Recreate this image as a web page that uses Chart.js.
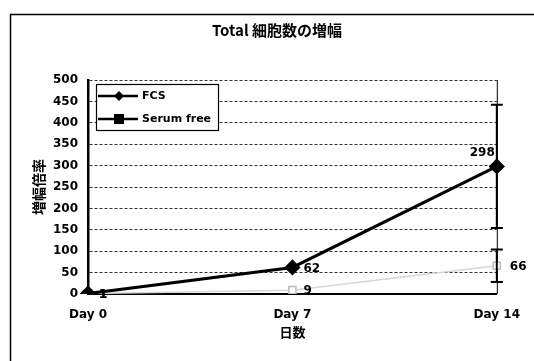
<!DOCTYPE html>
<html>
<head>
<meta charset="utf-8">
<script src="https://cdn.jsdelivr.net/npm/chart.js@4/dist/chart.umd.min.js"></script>
<style>
  html, body { margin: 0; padding: 0; background: #fff; }
  #wrap { width: 534px; height: 361px; }
</style>
</head>
<body>
<div id="wrap"><canvas id="c" width="534" height="361"></canvas></div>
<script>
// Fold expansion of total cell count
const days = ['Day 0', 'Day 7', 'Day 14'];
const fcsValues = [1, 62, 298];
const serumFreeValues = [1, 9, 66];
const fcsError = [0, 0, 144];
const serumFreeError = [0, 0, 38];
const yTicks = [0, 50, 100, 150, 200, 250, 300, 350, 400, 450, 500];

const chartTitle = 'Total 細胞数の増幅';
const xTitle = '日数';
const yTitle = '増幅倍率';

const LATIN = '"DejaVu Sans", "Liberation Sans", Arial, sans-serif';
const CJK = '"Noto Sans CJK JP", "DejaVu Sans", sans-serif';

// Page frame, white background and title
const framePlugin = {
  id: 'frame',
  beforeDraw(chart) {
    const ctx = chart.ctx;
    ctx.save();
    ctx.fillStyle = '#fff';
    ctx.fillRect(0, 0, chart.width, chart.height);
    ctx.strokeStyle = '#000';
    ctx.lineWidth = 1.5;
    ctx.beginPath();
    ctx.moveTo(10.5, chart.height);
    ctx.lineTo(10.5, 14.5);
    ctx.lineTo(chart.width, 14.5);
    ctx.stroke();
    ctx.fillStyle = '#000';
    ctx.font = 'bold 15px ' + CJK;
    ctx.textAlign = 'center';
    ctx.textBaseline = 'middle';
    ctx.fillText(chartTitle, 277, 30);
    ctx.restore();
  }
};

// Error bars drawn from the error arrays through the scales
const errorBarPlugin = {
  id: 'errorBars',
  afterDatasetsDraw(chart) {
    const ctx = chart.ctx;
    const y = chart.scales.y;
    const area = chart.chartArea;
    ctx.save();
    ctx.beginPath();
    ctx.rect(area.left - 10, area.top, area.right - area.left + 20, area.bottom - area.top);
    ctx.clip();
    chart.data.datasets.forEach((ds, i) => {
      const meta = chart.getDatasetMeta(i);
      const errs = ds.errors || [];
      meta.data.forEach((pt, j) => {
        const e = errs[j];
        if (!e) return;
        const v = ds.data[j];
        const yHi = y.getPixelForValue(v + e);
        const yLo = y.getPixelForValue(v - e);
        ctx.strokeStyle = '#000';
        ctx.lineWidth = 2;
        ctx.beginPath();
        ctx.moveTo(pt.x, yHi);
        ctx.lineTo(pt.x, yLo);
        ctx.moveTo(pt.x - 6, yHi);
        ctx.lineTo(pt.x + 6, yHi);
        ctx.moveTo(pt.x - 6, yLo);
        ctx.lineTo(pt.x + 6, yLo);
        ctx.stroke();
      });
    });
    ctx.restore();
  }
};

// Value labels next to each point
const valueLabelPlugin = {
  id: 'valueLabels',
  afterDatasetsDraw(chart) {
    const ctx = chart.ctx;
    ctx.save();
    ctx.fillStyle = '#000';
    ctx.font = 'bold 12px ' + LATIN;
    ctx.textBaseline = 'middle';
    chart.data.datasets.forEach((ds, i) => {
      const meta = chart.getDatasetMeta(i);
      meta.data.forEach((pt, j) => {
        const txt = String(ds.data[j]);
        if (ds.label === 'FCS' && j === ds.data.length - 1) {
          ctx.textAlign = 'right';
          ctx.fillText(txt, pt.x - 2, pt.y - 14);
        } else {
          ctx.textAlign = 'left';
          ctx.fillText(txt, pt.x + (j === 2 ? 13 : 11), pt.y + 1);
        }
      });
    });
    ctx.restore();
  }
};

// Plot-area right border
const plotBorderPlugin = {
  id: 'plotBorder',
  beforeDatasetsDraw(chart) {
    const { ctx, chartArea: a } = chart;
    ctx.save();
    ctx.strokeStyle = '#000';
    ctx.lineWidth = 1;
    ctx.beginPath();
    ctx.moveTo(a.right + 0.5, a.top);
    ctx.lineTo(a.right + 0.5, a.bottom);
    ctx.stroke();
    ctx.restore();
  }
};

// Boxed legend with line-and-marker samples, inside the plot area
const boxLegendPlugin = {
  id: 'boxLegend',
  afterDraw(chart) {
    const ctx = chart.ctx;
    const x0 = 96, y0 = 84, w = 122, h = 46;
    ctx.save();
    ctx.fillStyle = '#fff';
    ctx.fillRect(x0, y0, w, h);
    ctx.strokeStyle = '#000';
    ctx.lineWidth = 1.2;
    ctx.strokeRect(x0 + 0.5, y0 + 0.5, w, h);
    chart.data.datasets.forEach((ds, i) => {
      const cy = y0 + 12 + i * 23;
      ctx.strokeStyle = '#000';
      ctx.lineWidth = 2.5;
      ctx.beginPath();
      ctx.moveTo(x0 + 2, cy);
      ctx.lineTo(x0 + 42, cy);
      ctx.stroke();
      ctx.fillStyle = '#000';
      const mx = x0 + 23;
      if (ds.pointStyle === 'rectRot') {
        ctx.beginPath();
        ctx.moveTo(mx, cy - 5);
        ctx.lineTo(mx + 5, cy);
        ctx.lineTo(mx, cy + 5);
        ctx.lineTo(mx - 5, cy);
        ctx.closePath();
        ctx.fill();
      } else {
        ctx.fillRect(mx - 5, cy - 5, 10, 10);
      }
      ctx.font = 'bold 11px ' + LATIN;
      ctx.textAlign = 'left';
      ctx.textBaseline = 'middle';
      ctx.fillText(ds.label, x0 + 46, cy);
    });
    ctx.restore();
  }
};

new Chart(document.getElementById('c'), {
  type: 'line',
  data: {
    labels: days,
    datasets: [
      {
        label: 'FCS',
        data: fcsValues,
        errors: fcsError,
        borderColor: '#000',
        backgroundColor: '#000',
        borderWidth: 3,
        pointStyle: 'rectRot',
        pointRadius: 6,
        pointBackgroundColor: '#000',
        pointBorderColor: '#000',
        tension: 0,
        order: 1
      },
      {
        label: 'Serum free',
        data: serumFreeValues,
        errors: serumFreeError,
        borderColor: '#d6d6d6',
        backgroundColor: '#fff',
        borderWidth: 1.5,
        pointStyle: 'rect',
        pointRadius: 5,
        pointBackgroundColor: '#fff',
        pointBorderColor: '#bdbdbd',
        tension: 0,
        order: 2
      }
    ]
  },
  options: {
    responsive: false,
    animation: false,
    devicePixelRatio: 1,
    layout: { padding: { top: 80, right: 34, bottom: 10, left: 10 } },
    plugins: {
      legend: { display: false },
      title: { display: false },
      tooltip: { enabled: false }
    },
    scales: {
      x: {
        offset: false,
        grid: { display: false, drawTicks: false },
        border: { display: true, color: '#000', width: 2 },
        ticks: {
          color: '#000',
          font: { family: LATIN, size: 12, weight: 'bold' },
          padding: 14,
          maxRotation: 0
        },
        title: {
          display: true,
          text: xTitle,
          color: '#000',
          font: { family: CJK, size: 13, weight: 'bold' },
          padding: { top: 0, bottom: 11 }
        },
        afterFit(s) { s.height = 57; }
      },
      y: {
        min: 0,
        max: 500,
        afterBuildTicks(s) { s.ticks = yTicks.map(v => ({ value: v })); },
        grid: {
          color: '#333',
          lineWidth: 1,
          drawTicks: false
        },
        border: { display: true, color: '#000', width: 2.5, dash: [3, 2] },
        ticks: {
          color: '#000',
          font: { family: LATIN, size: 12, weight: 'bold' },
          padding: 10
        },
        title: {
          display: true,
          text: yTitle,
          color: '#000',
          font: { family: CJK, size: 14, weight: 'bold' },
          padding: { top: 20, bottom: 0 }
        },
        afterFit(s) { s.width = 78; }
      }
    }
  },
  plugins: [framePlugin, plotBorderPlugin, errorBarPlugin, valueLabelPlugin, boxLegendPlugin]
});
</script>
</body>
</html>
